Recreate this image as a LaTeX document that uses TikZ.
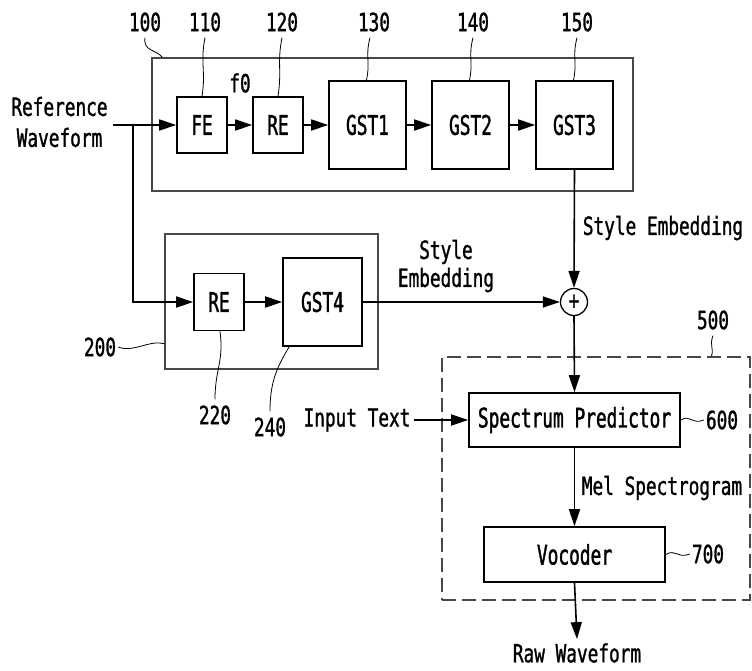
\documentclass[tikz,border=0pt]{standalone}
\usepackage{fontspec}
\newfontfamily\lblfont{DejaVu Sans Mono}[FakeStretch=0.71,FakeBold=1.2]
\newfontfamily\boxfnt{DejaVu Sans Mono}[FakeStretch=0.66,FakeBold=1.4]
\usetikzlibrary{arrows.meta,calc}
\begin{document}
\begin{tikzpicture}[x=1pt,y=-1pt,
  blk/.style={draw=black, line width=1.6pt, inner sep=0pt, font={\boxfnt\fontsize{27}{30}\selectfont}},
  outerbox/.style={draw=black!72, line width=1.3pt, inner sep=0pt},
  dashbox/.style={draw=black!72, line width=1.3pt, inner sep=0pt, dash pattern=on 14pt off 6pt},
  lbl/.style={font={\lblfont\fontsize{25}{29}\selectfont}, inner sep=0pt},
  numlbl/.style={font={\lblfont\fontsize{25}{29}\selectfont}, inner xsep=2pt, inner ysep=6pt},
  arr/.style={line width=1.6pt, -{Triangle[length=17pt,width=11pt]}},
  leader/.style={line width=0.8pt}]
\useasboundingbox (0,0) rectangle (752,670);

% ---- block 100 ----
\node[outerbox, minimum width=481, minimum height=133] (b100) at (392.5,124.5) {};
\node[blk, minimum width=50, minimum height=56] (fe) at (202,125) {FE};
\node[blk, minimum width=50, minimum height=56] (re1) at (278,125) {RE};
\node[blk, minimum width=77, minimum height=88] (g1) at (367.5,125) {GST1};
\node[blk, minimum width=77, minimum height=88] (g2) at (470.5,125) {GST2};
\node[blk, minimum width=77, minimum height=88] (g3) at (574.5,125) {GST3};
\node[lbl] (f0) at (240,83) {f0};

% ---- block 200 ----
\node[outerbox, minimum width=213, minimum height=135] (b200) at (271.5,301.5) {};
\node[blk, minimum width=50, minimum height=57] (re2) at (219,302) {RE};
\node[blk, minimum width=79, minimum height=88] (g4) at (322.5,302) {GST4};

% ---- sum ----
\node[draw, circle, line width=1.3pt, minimum size=27, inner sep=0pt,
      font={\lblfont\fontsize{25}{25}\selectfont}] (plus) at (574,302) {+};

% ---- block 500 ----
\node[dashbox, minimum width=308, minimum height=243] (b500) at (596,478.5) {};
\node[blk, minimum width=211, minimum height=54] (sp) at (574.5,420) {Spectrum Predictor};
\node[blk, minimum width=181, minimum height=55] (voc) at (574.5,554.5) {Vocoder};

% ---- texts ----
\node[lbl, align=center, font={\lblfont\fontsize{25}{31}\selectfont}] (rw) at (59.5,122) {Reference\\Waveform};
\coordinate (rwin) at (113,125);
\coordinate (br) at (133,125);
\node[lbl] (se1) at (663,228) {Style Embedding};
\node[lbl, align=center, font={\lblfont\fontsize{25}{28}\selectfont}] (se2) at (446,266) {Style\\Embedding};
\node[lbl, inner xsep=3pt] (it) at (357,420) {Input Text};
\node[lbl] (mel) at (662,488) {Mel Spectrogram};
\node[lbl, inner ysep=4pt] (raw) at (577,653) {Raw Waveform};

% ---- connectors ----
\draw[arr] (rwin) -- (fe.west);
\draw[arr] (br) |- (re2.west);
\draw[arr] (fe) -- (re1);
\draw[arr] (re1) -- (g1);
\draw[arr] (g1) -- (g2);
\draw[arr] (g2) -- (g3);
\draw[arr] (g3.south) -- (plus.north);
\draw[arr] (re2) -- (g4);
\draw[arr] (g4.east) -- (plus.west);
\draw[arr] (plus.south) -- (sp.north);
\draw[arr] (it.east) -- (sp.west);
\draw[arr] (sp.south) -- (voc.north);
\draw[arr] (voc.south) -- (raw.north);

% ---- reference numerals ----
\node[numlbl] (l100) at (145,22) {100};
\node[numlbl] (l110) at (205,22) {110};
\node[numlbl] (l120) at (282,22) {120};
\node[numlbl] (l130) at (374,22) {130};
\node[numlbl] (l140) at (473,22) {140};
\node[numlbl] (l150) at (577,22) {150};
\node[numlbl] (l200) at (100,347) {200};
\node[numlbl] (l220) at (215,415) {220};
\node[numlbl] (l240) at (270,427) {240};
\node[numlbl] (l500) at (713,320) {500};
\node[numlbl] (l600) at (722,420) {600};
\node[numlbl] (l700) at (708,554) {700};

\draw[leader] (l100.south) .. controls +(-2,14) and +(-6,-8) .. ($(b100.north west)+(11,0)$);
\draw[leader] (l110.south) .. controls +(-5,25) and +(4,-25) .. (fe.north);
\draw[leader] (l120.south) .. controls +(-5,25) and +(4,-25) .. (re1.north);
\draw[leader] ($(l130.south)+(-4,0)$) .. controls +(-5,20) and +(4,-20) .. ($(g1.north)+(-1,0)$);
\draw[leader] (l140.south) .. controls +(-5,20) and +(4,-20) .. ($(g2.north)+(-1,0)$);
\draw[leader] (l150.south) .. controls +(-5,20) and +(4,-20) .. ($(g3.north)+(-1,0)$);
\draw[leader] (l200.east) .. controls +(15,6) and +(-15,-4) .. ($(b200.south west)+(0,-26)$);
\draw[leader] ($(re2.south)+(1,0)$) .. controls +(4,30) and +(0,-30) .. (l220.north);
\draw[leader] ($(g4.south west)+(7,0)$) .. controls +(-12,20) and +(0,-30) .. (l240.north);
\draw[leader] (l500.south) .. controls +(-4,10) and +(3,-8) .. ($(b500.north west)+(270,0)$);
\draw[leader] (sp.east) .. controls +(10,-6) and +(-12,5) .. (l600.west);
\draw[leader] (voc.east) .. controls +(10,-6) and +(-12,5) .. (l700.west);
\end{tikzpicture}
\end{document}
